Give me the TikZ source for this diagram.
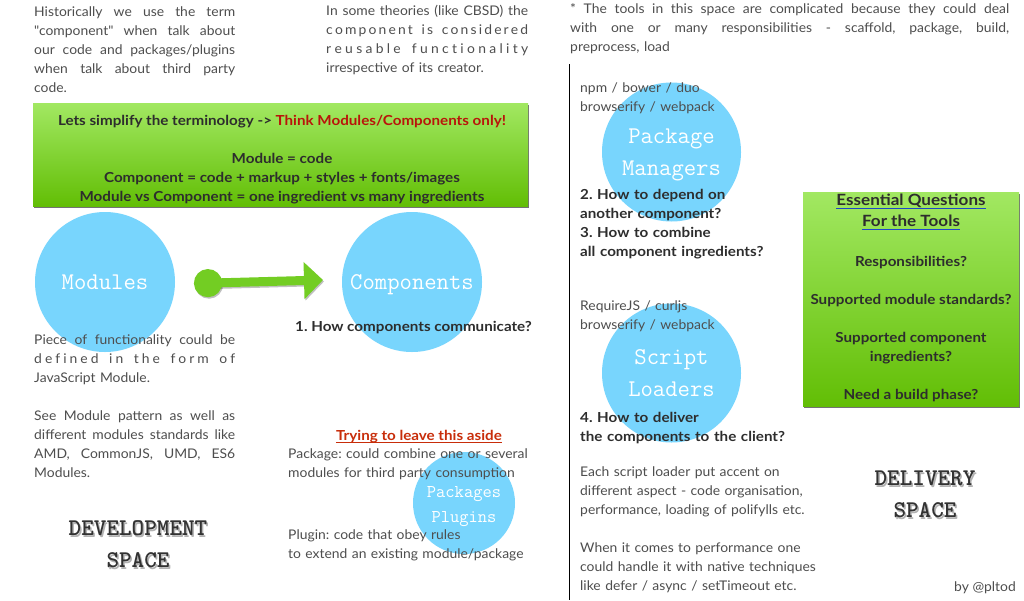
\documentclass[tikz,border=0pt]{standalone}
\usepackage{fontspec}
\setmainfont{Lato}[FakeStretch=1.045, Ligatures=TeXOff]
\newfontfamily\boldfam{Lato}[FakeStretch=1.1]
\usetikzlibrary{arrows.meta,shadows}
\definecolor{bubble}{RGB}{120,213,253}
\definecolor{gtop}{RGB}{162,232,98}
\definecolor{gbot}{RGB}{98,190,5}
\definecolor{bodygray}{RGB}{78,78,78}
\definecolor{boldgray}{RGB}{45,45,45}
\definecolor{redA}{RGB}{185,20,10}
\definecolor{redB}{RGB}{200,45,10}
\definecolor{arrowgreen}{RGB}{115,205,35}
\definecolor{ulblue}{RGB}{30,70,200}
\definecolor{titlegray}{RGB}{50,50,50}
\ExplSyntaxOn
\NewDocumentCommand\LS{mm}{\makebox[#1][s]{\strut\bool_set_true:N\l_tmpa_bool\str_map_inline:nn{#2}{\bool_if:NTF\l_tmpa_bool{\bool_set_false:N\l_tmpa_bool}{\hfil}##1}}}
\ExplSyntaxOff
\newcommand\JL[2]{\makebox[#1][s]{\spaceskip=\fontdimen2\font plus 1fil\relax\strut#2}}
\AtBeginDocument{\frenchspacing}
\tikzset{
  body/.style={inner sep=0pt, font=\fontsize{13.3}{19}\selectfont, text=bodygray},
  boldtxt/.style={inner sep=0pt, font=\boldfam\bfseries\fontsize{13.8}{19}\selectfont, text=boldgray},
  para/.style={body, anchor=north west, align=left},
  boldpara/.style={boldtxt, anchor=north west, align=left},
  bubblenode/.style={circle, fill=bubble, draw=none, inner sep=0pt},
  bubtxt/.style={inner sep=0pt, anchor=base, text=white, font=\ttfamily\fontsize{24}{30}\selectfont},
  smallbubtxt/.style={bubtxt, font=\ttfamily\fontsize{18}{24}\selectfont},
  greenbox/.style={rectangle, inner sep=0pt, anchor=north west, top color=gtop, bottom color=gbot,
     drop shadow={shadow xshift=1pt, shadow yshift=-2pt, opacity=0.55, fill=black}},
  spacetitle/.style={inner sep=0pt, anchor=base, text=titlegray, font=\ttfamily\bfseries\fontsize{24}{30}\selectfont},
  spaceshadow/.style={spacetitle, text=black, opacity=0.3},
  greenarrow/.style={line width=9pt, draw=arrowgreen, {Circle[length=28pt,width=28pt]}-{Triangle[length=19pt,width=36pt]}},
  arrowshadow/.style={greenarrow, draw=black, opacity=0.25},
}
\begin{document}
\begin{tikzpicture}[x=1pt,y=-1pt]
\useasboundingbox (0,0) rectangle (1024,600);
\fill[white] (0,0) rectangle (1024,600);

% ---------------- left half ----------------
\node[para, text width=201pt] (pA) at (34,2.7) {%
\JL{201pt}{Historically we use the term}\\
\JL{201pt}{"component" when talk about}\\
\JL{201pt}{our code and packages/plugins}\\
\JL{201pt}{when talk about third party}\\
code.};

\node[para, text width=202pt] (pB) at (326,1.7) {%
\JL{202pt}{In some theories (like CBSD) the}\\
\LS{202pt}{component is considered}\\
\LS{202pt}{reusable functionality}\\
irrespective of its creator.};

\node[greenbox, minimum width=495pt, minimum height=103pt] (gb) at (33,103) {};
\node[boldtxt, anchor=base] (gb1) at (282,125) {Lets simplify the terminology -> \textcolor{redA}{Think Modules/Components only!}};
\node[boldtxt, anchor=base] (gb2) at (282,163) {Module = code};
\node[boldtxt, anchor=base] (gb3) at (282,182) {Component = code + markup + styles + fonts/images};
\node[boldtxt, anchor=base] (gb4) at (282,201) {Module vs Component = one ingredient vs many ingredients};

\node[bubblenode, minimum size=140pt] (mod) at (105,282) {};
\node[bubblenode, minimum size=140pt] (comp) at (412,282) {};
\node[bubtxt] (modT) at (105,289) {Modules};
\node[bubtxt] (compT) at (412,289) {Components};

\coordinate (arrS) at (194,283.5);
\coordinate (arrE) at (323,280);
\draw[arrowshadow] ([shift={(1pt,-1.5pt)}]arrS) -- ([shift={(1pt,-1.5pt)}]arrE);
\draw[greenarrow] (arrS) -- (arrE);

\node[boldtxt, anchor=base west] (q1) at (295,331) {1. How components communicate?};

\node[para, text width=201pt] (pC) at (34,330.7) {%
\JL{201pt}{Piece of functionality could be}\\
\LS{201pt}{defined in the form of}\\
JavaScript Module.\\
\strut\\
\JL{201pt}{See Module pattern as well as}\\
\JL{201pt}{different modules standards like}\\
\JL{201pt}{AMD, CommonJS, UMD, ES6}\\
Modules.};

\node[spaceshadow] (devS1) at (139.5,537) {DEVELOPMENT};
\node[spaceshadow] (devS2) at (139.5,569) {SPACE};
\node[spacetitle] (dev1) at (138,535) {DEVELOPMENT};
\node[spacetitle] (dev2) at (138,567) {SPACE};

\node[bubblenode, minimum size=102pt] (pkg) at (464,503) {};
\node[smallbubtxt] (pkgT1) at (464,497) {Packages};
\node[smallbubtxt] (pkgT2) at (464,522) {Plugins};

\node[boldtxt, anchor=base, text=redB] (try) at (419,440) {Trying to leave this aside};
\draw[redB, line width=1.2pt] ([yshift=-2.8pt]try.base west) -- ([yshift=-2.8pt]try.base east);

\node[para, text width=280pt] (pD) at (288,444.7) {%
\strut Package: could combine one or several\\
modules for third party consumption};
\node[para, text width=280pt] (pE) at (288,525.7) {%
\strut Plugin: code that obey rules\\
to extend an existing module/package};

% ---------------- divider ----------------
\coordinate (vtop) at (569.5,64);
\coordinate (vbot) at (569.5,600);
\draw[line width=1pt, black] (vtop) -- (vbot);

% ---------------- right half ----------------
\node[para, text width=439pt] (pF) at (570,-0.3) {%
\JL{439pt}{* The tools in this space are complicated because they could deal}\\
\JL{439pt}{with one or many responsibilities - scaffold, package, build,}\\
preprocess, load};

\node[bubblenode, minimum size=139pt] (pm) at (671.5,152) {};
\node[bubtxt] (pmT1) at (671.5,143) {Package};
\node[bubtxt] (pmT2) at (671.5,175) {Managers};
\node[para, text width=220pt] (npm) at (580,78.7) {%
\strut npm / bower / duo\\
browserify / webpack};
\node[boldpara, text width=220pt] (q23) at (580,185.7) {%
\strut 2. How to depend on\\
another component?\\
3. How to combine\\
all component ingredients?};

\node[bubblenode, minimum size=139pt] (sl) at (671.5,373) {};
\node[bubtxt] (slT1) at (671.5,364) {Script};
\node[bubtxt] (slT2) at (671.5,396) {Loaders};
\node[para, text width=220pt] (req) at (580,296.7) {%
\strut RequireJS / curljs\\
browserify / webpack};
\node[boldpara, text width=220pt] (q4) at (580,408.7) {%
\strut 4. How to deliver\\
the components to the client?};
\node[para, text width=240pt] (pG) at (580,462.7) {%
\strut Each script loader put accent on\\
different aspect - code organisation,\\
performance, loading of polifylls etc.};
\node[para, text width=240pt] (pH) at (580,538.7) {%
\strut When it comes to performance one\\
could handle it with native techniques\\
like defer / async / setTimeout etc.};

\node[greenbox, minimum width=216pt, minimum height=214pt] (eq) at (803,192) {};
\node[boldtxt, anchor=base, font=\boldfam\bfseries\fontsize{15.5}{19}\selectfont] (eq1) at (911,205) {Essential Questions};
\node[boldtxt, anchor=base, font=\boldfam\bfseries\fontsize{15.5}{19}\selectfont] (eq2) at (911,226) {For the Tools};
\draw[ulblue, line width=1pt] ([yshift=-3pt]eq1.base west) -- ([yshift=-3pt]eq1.base east);
\draw[ulblue, line width=1pt] ([yshift=-3pt]eq2.base west) -- ([yshift=-3pt]eq2.base east);
\node[boldtxt, anchor=base] (eq3) at (911,266) {Responsibilities?};
\node[boldtxt, anchor=base] (eq4) at (911,304) {Supported module standards?};
\node[boldtxt, anchor=base] (eq5) at (911,342) {Supported component};
\node[boldtxt, anchor=base] (eq6) at (911,361) {ingredients?};
\node[boldtxt, anchor=base] (eq7) at (911,399) {Need a build phase?};

\node[spaceshadow] (delS1) at (926.5,487) {DELIVERY};
\node[spaceshadow] (delS2) at (926.5,519) {SPACE};
\node[spacetitle] (del1) at (925,485) {DELIVERY};
\node[spacetitle] (del2) at (925,517) {SPACE};

\node[body, anchor=base east] (by) at (1016,591) {by @pltod};
\end{tikzpicture}
\end{document}
